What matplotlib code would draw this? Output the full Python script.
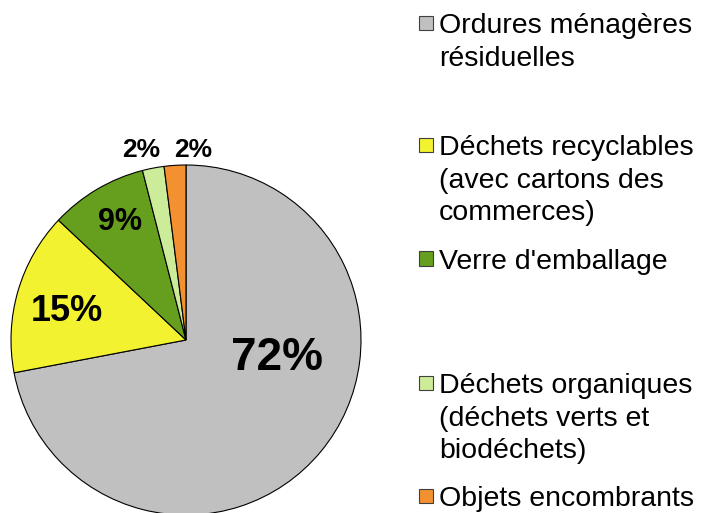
import matplotlib
matplotlib.use("Agg")
import matplotlib.pyplot as plt
from matplotlib.patches import Rectangle

plt.rcParams['font.family'] = ['Liberation Sans', 'DejaVu Sans']

categories = ["Ordures ménagères\nrésiduelles",
              "Déchets recyclables\n(avec cartons des\ncommerces)",
              "Verre d'emballage",
              "Déchets organiques\n(déchets verts et\nbiodéchets)",
              "Objets encombrants"]
values = [72, 15, 9, 2, 2]
colors = ["#C0C0C0", "#F2F230", "#669E1E", "#CCEC99", "#F39030"]

# label placement (data units, radius = 1) and font sizes
label_pos = [(0.518, -0.103), (-0.682, 0.162), (-0.377, 0.674),
             (-0.257, 1.086), (0.04, 1.086)]
label_size = [33, 26, 22, 19, 19]

W, H = 705, 513
fig = plt.figure(figsize=(W / 100, H / 100), dpi=100)

cx, cy, r = 186, 340, 175
lim = 1.05
half = r * lim
ax = fig.add_axes([(cx - half) / W, (H - cy - half) / H, 2 * half / W, 2 * half / H])
ax.pie(values, colors=colors, startangle=90, counterclock=False,
       wedgeprops=dict(edgecolor="black", linewidth=0.8))
ax.set_xlim(-lim, lim)
ax.set_ylim(-lim, lim)
ax.set_aspect('equal')
ax.axis('off')

total = sum(values)
for v, (x, y), fs in zip(values, label_pos, label_size):
    ax.text(x, y, f"{round(100 * v / total)}%", ha='center', va='center',
            fontsize=fs, fontweight='bold', clip_on=False)

# legend drawn by hand (uneven spacing in the original)
baselines = [33, 155, 269, 393, 506]
sq = 14
line_gap = 32.5
for lab, col, yb in zip(categories, colors, baselines):
    yc = yb - 10.5
    fig.patches.append(Rectangle(((425.5 - sq / 2) / W, (H - yc - sq / 2) / H), sq / W, sq / H,
                                 transform=fig.transFigure, facecolor=col,
                                 edgecolor="#404040", linewidth=0.8))
    for i, line in enumerate(lab.split("\n")):
        fig.text(439 / W, (H - yb - i * line_gap) / H, line, ha='left', va='baseline',
                 fontsize=20.5)

fig.savefig("out.png", dpi=100)
